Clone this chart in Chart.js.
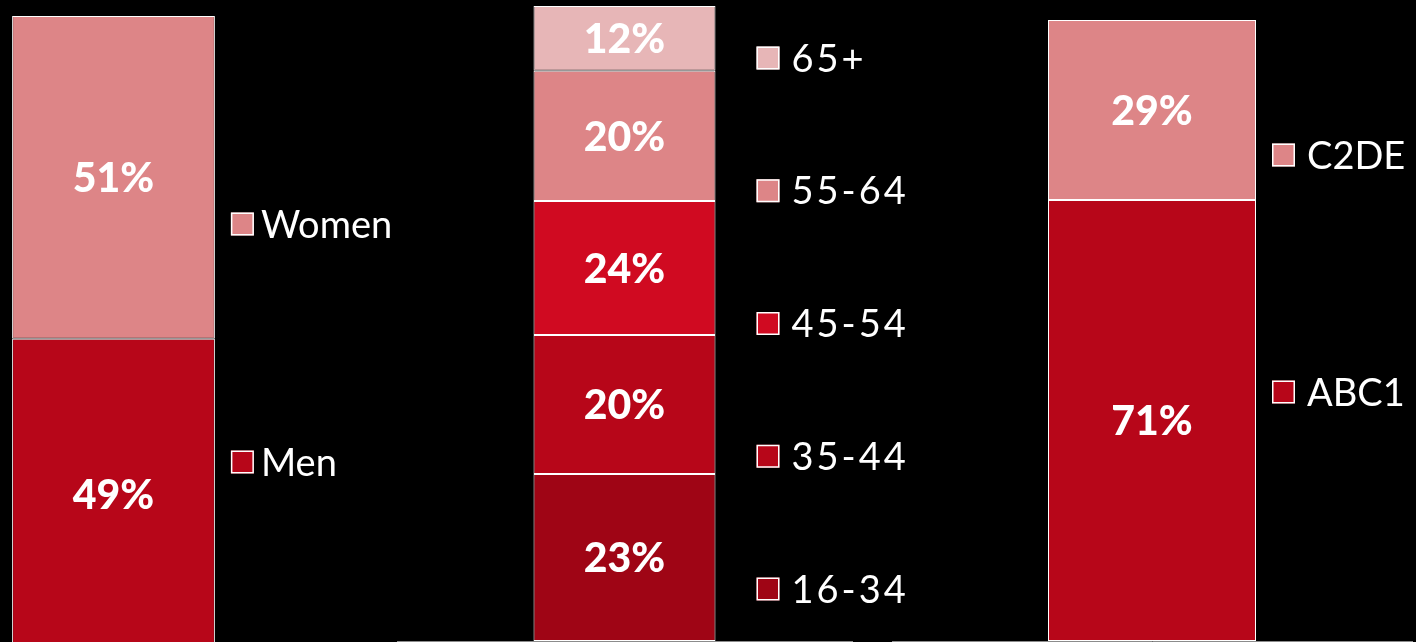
<!DOCTYPE html>
<html>
<head>
<meta charset="utf-8">
<script src="https://cdn.jsdelivr.net/npm/chart.js@4.4.1/dist/chart.umd.min.js"></script>
<style>
  html, body { margin: 0; padding: 0; background: #000; overflow: hidden; width: 1416px; height: 642px; }
  canvas { position: absolute; top: 0; }
</style>
</head>
<body>
<canvas id="gender" width="560" height="660" style="left:-140px"></canvas>
<canvas id="age" width="530" height="642" style="left:397px"></canvas>
<canvas id="social" width="524" height="642" style="left:892px"></canvas>
<script>
// gender split (bottom to top)
const genderNames = ['Men', 'Women'];
const genderValues = [49, 51];
const genderLabels = ['49%', '51%'];

// age split (bottom to top) - segment sizes as drawn, labels as printed
const ageNames = ['16-34', '35-44', '45-54', '55-64', '65+'];
const ageValues = [26.3, 21.9, 21.1, 20.5, 10.2];
const ageLabels = ['23%', '20%', '24%', '20%', '12%'];

// social grade split (bottom to top)
const socialNames = ['ABC1', 'C2DE'];
const socialValues = [71, 29];
const socialLabels = ['71%', '29%'];

const PINK_LIGHT = '#e7b6b7';
const PINK = '#dd8587';
const RED_BRIGHT = '#d00a21';
const RED = '#b70619';
const RED_DARK = '#9f0515';

const FONT = 'Lato, "Open Sans", sans-serif';

// writes the % label in the middle of each segment
const segmentLabels = {
  id: 'segmentLabels',
  afterDatasetsDraw(chart, args, opts) {
    const ctx = chart.ctx;
    ctx.save();
    ctx.fillStyle = '#fff';
    ctx.font = '900 41px ' + FONT;
    ctx.textAlign = 'center';
    ctx.textBaseline = 'alphabetic';
    chart.data.datasets.forEach((ds, i) => {
      const bar = chart.getDatasetMeta(i).data[0];
      const cy = (bar.y + bar.base) / 2;
      ctx.fillText(opts.labels[i], bar.x, cy + 41 * 0.36);
    });
    ctx.restore();
  }
};

// legend column next to the bar, top item = top segment
const sideLegend = {
  id: 'sideLegend',
  afterDraw(chart, args, opts) {
    const ctx = chart.ctx;
    const bar = chart.getDatasetMeta(0).data[0];
    const x = bar.x + bar.width / 2 + opts.offset;
    const n = chart.data.datasets.length;
    ctx.save();
    ctx.font = '38px ' + FONT;
    ctx.letterSpacing = opts.spacing + 'px';
    ctx.textBaseline = 'alphabetic';
    for (let k = 0; k < n; k++) {
      const ds = chart.data.datasets[n - 1 - k];
      const cy = opts.top + k * opts.gap;
      ctx.fillStyle = ds.backgroundColor;
      ctx.fillRect(x, cy - 11.5, 23, 23);
      ctx.strokeStyle = '#fff';
      ctx.lineWidth = 1.5;
      ctx.strokeRect(x + 0.75, cy - 10.75, 21.5, 21.5);
      ctx.fillStyle = '#fff';
      ctx.fillText(ds.label, x + opts.textGap, cy + 38 * 0.36);
    }
    ctx.restore();
  }
};

function makeChart(id, names, values, labels, colors, pad, legend) {
  new Chart(document.getElementById(id), {
    type: 'bar',
    data: {
      labels: [''],
      datasets: names.map((name, i) => ({
        label: name,
        data: [values[i]],
        backgroundColor: colors[i],
        borderColor: '#fff',
        borderWidth: 1,
        borderSkipped: false,
        barPercentage: 0.4,
        categoryPercentage: 1
      }))
    },
    options: {
      responsive: false,
      animation: false,
      events: [],
      layout: { padding: pad },
      plugins: {
        legend: { display: false },
        tooltip: { enabled: false },
        segmentLabels: { labels: labels },
        sideLegend: legend
      },
      scales: {
        x: {
          stacked: true,
          ticks: { display: false },
          grid: { display: false, drawTicks: false },
          border: { display: true, color: '#8c8c8c', width: 1 }
        },
        y: {
          stacked: true,
          display: false,
          min: 0,
          max: 100
        }
      }
    },
    plugins: [segmentLabels, sideLegend]
  });
}

makeChart('gender', genderNames, genderValues, genderLabels, [RED, PINK],
  { left: 0, right: 53, top: 16, bottom: 11 },
  { offset: 16, top: 224, gap: 238, textGap: 30, spacing: 0 });

makeChart('age', ageNames, ageValues, ageLabels, [RED_DARK, RED, RED_BRIGHT, PINK, PINK_LIGHT],
  { left: 0, right: 75, top: 6, bottom: 1 },
  { offset: 41, top: 58, gap: 132.75, textGap: 35, spacing: 3 });

makeChart('social', socialNames, socialValues, socialLabels, [RED, PINK],
  { left: 0, right: 4, top: 20, bottom: 1 },
  { offset: 16, top: 155, gap: 237, textGap: 35, spacing: 0 });
</script>
</body>
</html>
